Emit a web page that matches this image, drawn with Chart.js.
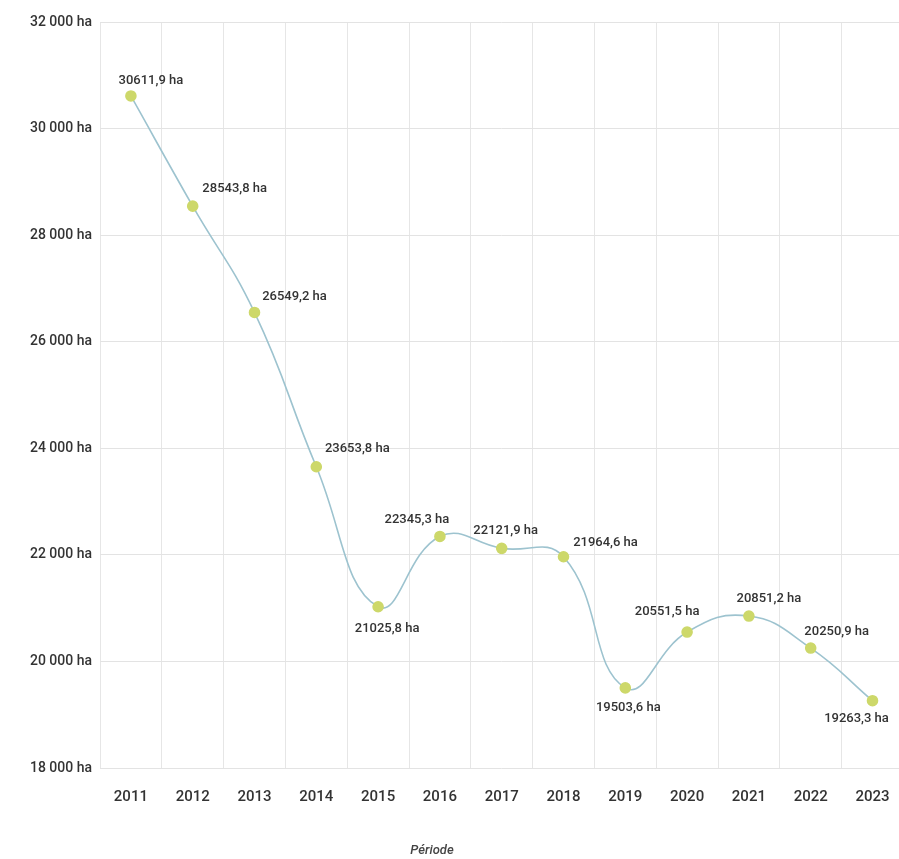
<!DOCTYPE html>
<html>
<head>
<meta charset="utf-8">
<script src="https://cdn.jsdelivr.net/npm/chart.js@4.4.1/dist/chart.umd.min.js"></script>
<style>
  html, body { margin: 0; padding: 0; background: #fff; overflow: hidden; }
  #wrap { width: 910px; height: 859px; position: relative; }
</style>
</head>
<body>
<div id="wrap"><canvas id="grafica"></canvas></div>
<script>
// Surface (ha) par année
const annees = ["2011", "2012", "2013", "2014", "2015", "2016", "2017", "2018", "2019", "2020", "2021", "2022", "2023"];
const surfaces = [30611.9, 28543.8, 26549.2, 23653.8, 21025.8, 22345.3, 22121.9, 21964.6, 19503.6, 20551.5, 20851.2, 20250.9, 19263.3];
const yMin = 18000;
const yMax = 32000;
const yPas = 2000;
const titreX = "Période";

// décalage des étiquettes par rapport au point (px)
const decalages = [
  [20, -15], [42, -17], [40, -16], [41, -18], [9, 22], [-23, -17], [4, -18],
  [42, -14], [3, 20], [-20, -20], [20, -17], [26, -16], [-16, 18]
];

const formatMilliers = (v) => String(v).replace(/\B(?=(\d{3})+(?!\d))/g, " ");
const formatValeur = (v) => String(v).replace(".", ",") + " ha";

const etiquettes = {
  id: "etiquettes",
  afterDatasetsDraw(chart) {
    const ctx = chart.ctx;
    const meta = chart.getDatasetMeta(0);
    ctx.save();
    ctx.font = "500 13px Roboto, sans-serif";
    ctx.fillStyle = "#333";
    ctx.textAlign = "center";
    ctx.textBaseline = "middle";
    meta.data.forEach((pt, i) => {
      const d = decalages[i];
      ctx.fillText(formatValeur(surfaces[i]), pt.x + d[0], pt.y + d[1]);
    });
    // titre de l'axe X
    ctx.font = "italic 500 13px Roboto, sans-serif";
    ctx.fillStyle = "#444";
    ctx.fillText(titreX, 432, 851);
    ctx.restore();
  }
};

document.addEventListener("DOMContentLoaded", function () {
  const ctx = document.getElementById("grafica").getContext("2d");
  new Chart(ctx, {
    type: "line",
    data: {
      labels: annees,
      datasets: [
        {
          label: "Surface",
          data: surfaces,
          borderColor: "#9dc3cf",
          borderWidth: 1.6,
          tension: 0.45,
          pointRadius: 5,
          pointBackgroundColor: "#cdd86a",
          pointBorderColor: "#cdd86a",
          fill: false,
        },
      ],
    },
    plugins: [etiquettes],
    options: {
      responsive: true,
      maintainAspectRatio: false,
      animation: false,
      layout: { padding: { top: 22, right: 0, left: 0, bottom: 0 } },
      plugins: {
        legend: { display: false },
        tooltip: { enabled: false },
      },
      scales: {
        x: {
          offset: true,
          grid: { color: "#e6e6e6", drawTicks: false, offset: true },
          border: { display: false },
          ticks: {
            color: "#333",
            padding: 20,
            font: { family: "Roboto, sans-serif", size: 15, weight: "500" },
          },
          afterFit(scale) { scale.height = 91; },
        },
        y: {
          min: yMin,
          max: yMax,
          grid: { color: "#e3e3e3", drawTicks: false },
          border: { display: false },
          ticks: {
            stepSize: yPas,
            color: "#333",
            padding: 8,
            font: { family: "Roboto, sans-serif", size: 14, weight: "500" },
            callback: (v) => formatMilliers(v) + " ha",
          },
          afterFit(scale) { scale.width = 100; },
        },
      },
    },
  });
});
</script>
</body>
</html>
